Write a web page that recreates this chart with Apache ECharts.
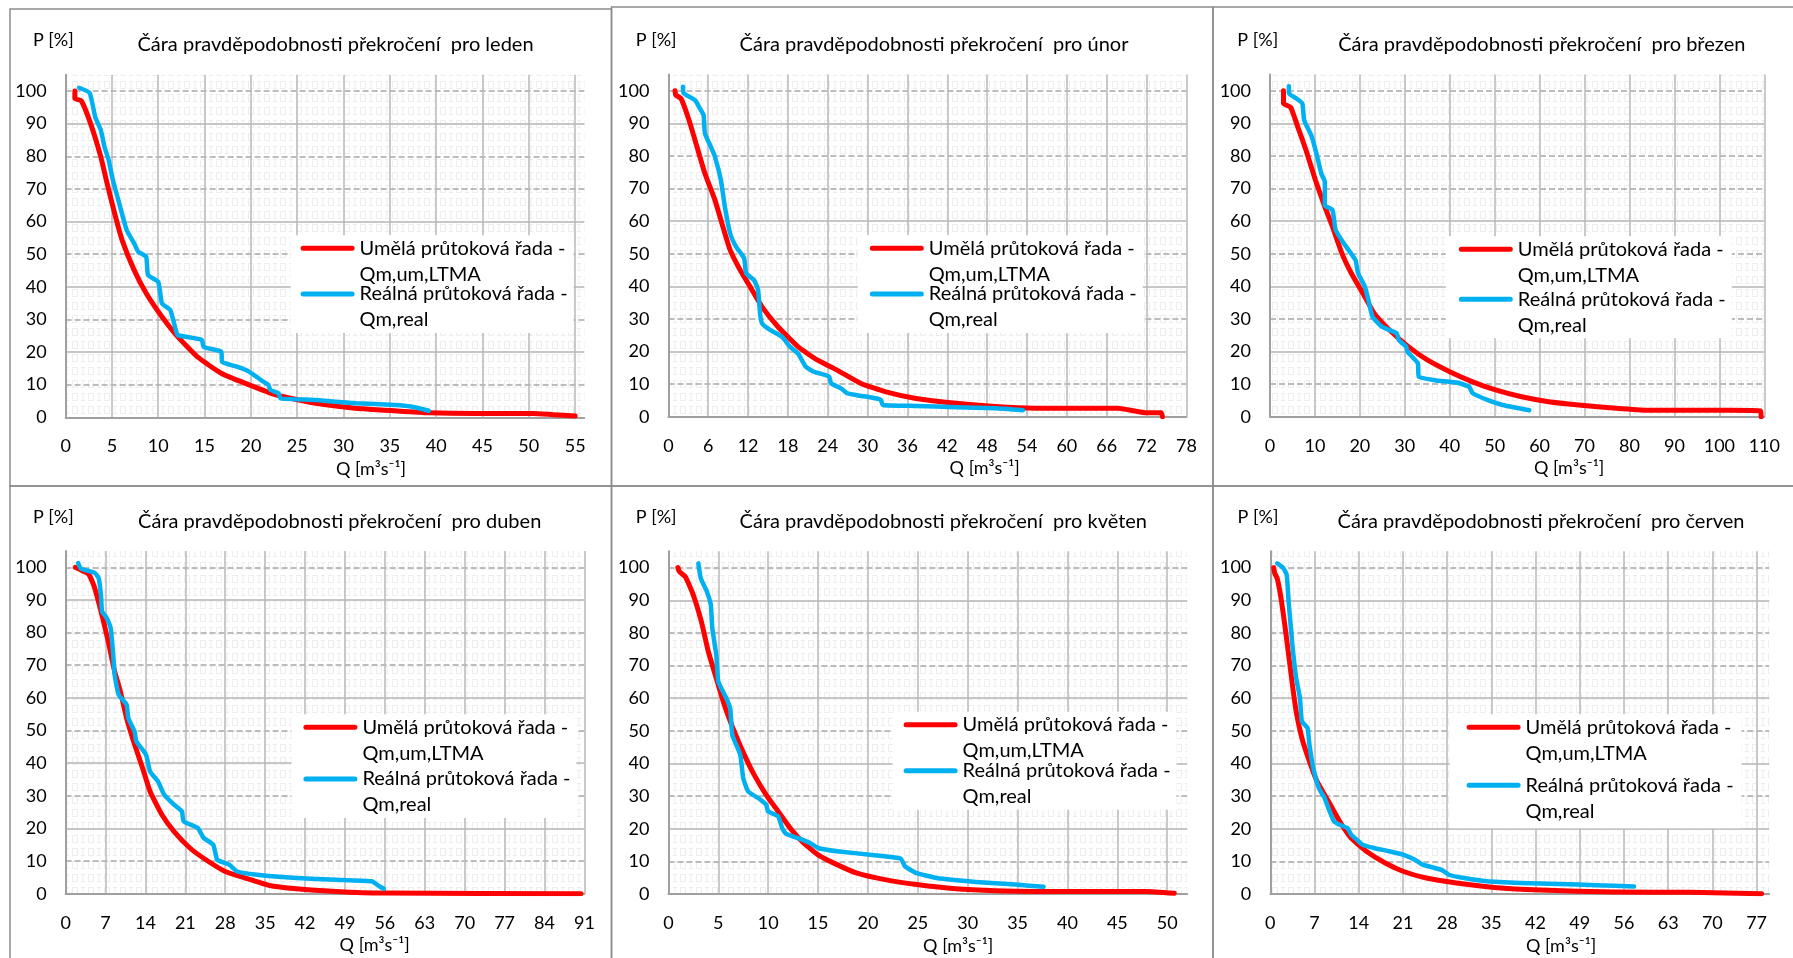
<!DOCTYPE html>
<html>
<head>
<meta charset="utf-8">
<script src="https://cdn.jsdelivr.net/npm/echarts@6/dist/echarts.min.js"></script>
<style>
html,body{margin:0;padding:0;background:#fff;}
#main{width:1793px;height:958px;}
</style>
</head>
<body>
<div id="main"></div>
<script>
// ---------------- DATA ----------------
const months = ['leden', 'únor', 'březen', 'duben', 'květen', 'červen'];
const seriesNames = ['Umělá průtoková řada -\nQm,um,LTMA', 'Reálná průtoková řada -\nQm,real'];
const xMax = [56, 78, 110, 91, 52, 79];
const xInterval = [5, 6, 10, 7, 5, 7];
const yMin = 0, yMax = 105, yInterval = 10;

const umLeden = [[1.0,100],[1.0,97.7],[1.7,97],[2.7,90],[3.8,79.8],[4.4,72.6],[5.3,62.4],[6.1,54.3],[7.4,45.1],[8.7,38],[10.4,30.8],[12.1,24.7],[14.2,18.6],[16.8,13.5],[19.4,10.4],[22.8,6.8],[27,4.3],[31.3,2.8],[35.6,2],[39.2,1.4],[44.1,1.2],[50.5,1.2],[52.6,0.8],[55,0.4]];
const realLeden = [[1.45,101],[2.6,99.4],[3.2,92],[3.8,88],[4.2,82.9],[4.65,78.8],[5.1,72.7],[5.7,66.5],[6.6,57.3],[7.4,53.3],[7.85,50.7],[8.7,49.2],[8.9,43.6],[10,41.5],[10.4,34.9],[11.3,32.9],[11.9,26.7],[12.1,25.2],[14.7,23.7],[14.9,21.6],[16.8,20.1],[16.9,17],[18.5,15.5],[19.8,14],[21.1,11.4],[21.9,9.9],[22.1,8.4],[23,7.3],[23.2,5.8],[27,5.3],[31.3,4.3],[35.6,3.8],[37.3,3.3],[39.2,2]];

const umUnor = [[1.0,100],[1.1,98.7],[1.9,97.6],[3.1,91],[4.3,82.8],[5.5,74.6],[7.0,66.5],[8.2,58.3],[9.3,51.1],[10.8,45],[12.3,39.9],[14.1,33.7],[16.5,27.6],[19.5,21.5],[22.4,17.4],[25.4,14.3],[29,10.2],[32.6,7.7],[37.3,5.6],[43.3,4.1],[49.2,3.1],[55.2,2.6],[61.2,2.6],[67.7,2.6],[70.1,1.8],[71.9,1.2],[74.2,1.2],[74.4,0]];
const realUnor = [[2.2,101.2],[2.3,99.2],[4.0,97.1],[4.9,94],[5.3,92.5],[5.5,86.9],[6.4,82.8],[7,79.8],[7.9,72.6],[8.5,64.4],[9.3,56.2],[10.2,52.1],[11.4,48.6],[11.7,44],[12.9,41.9],[13.5,38.9],[13.8,31.7],[14.1,28.6],[15.3,26.6],[17.1,24.5],[18.3,21.5],[19.5,19.4],[20.7,15.3],[21.9,13.8],[24.2,12.3],[24.5,10.2],[26,8.7],[26.9,7.2],[28.4,6.6],[31.4,5.6],[32,5.1],[32.3,3.6],[37.3,3.3],[43.3,2.9],[49.2,2.6],[53.4,2.0]];

const umBrezen = [[3.0,100],[3.0,96.1],[4.6,94.9],[5.9,90],[8.0,81.8],[10.1,72.6],[12.2,64.4],[13.9,58.3],[16,50.1],[18.1,44],[20.7,37.8],[23.2,31.7],[26.6,26.6],[30.8,21.5],[35,17.4],[40,13.8],[45.1,10.7],[50.2,8.2],[56,6.1],[62,4.6],[68.7,3.6],[77.1,2.6],[83.9,2.0],[94,2.0],[102.4,2.0],[109.2,1.8],[109.3,0]];
const realBrezen = [[4.2,101.4],[4.2,99.2],[5.9,97.6],[7.2,96.1],[7.6,91],[9.3,85.9],[10.5,79.8],[11.4,74.6],[12.2,72.1],[12.2,64.9],[13.9,63.4],[14.6,57.3],[16.4,53.2],[19.0,48.1],[19.6,44],[21.1,39.9],[21.9,35.8],[22.8,30.7],[24.9,27.6],[28.2,25.6],[28.7,23.5],[30.3,21.5],[30.6,19.9],[32.9,16.4],[33.1,12.3],[36.7,11.2],[41.7,10.4],[44.3,9.2],[45.1,7.2],[48.5,5.1],[51.8,3.6],[57.7,2.0]];

const umDuben = [[1.7,100],[3.1,98.8],[4.1,97.8],[5.1,93.7],[6.5,84.5],[7.6,76.3],[8.6,68.1],[9.6,62],[10.7,53.8],[12.1,45.7],[13.5,38.5],[14.8,31.4],[16.9,24.2],[19,19.1],[21.8,14],[24.6,10.4],[28,6.8],[31.5,4.8],[35.6,2.6],[40.5,1.5],[47.4,0.7],[55.8,0.2],[90.4,0]];
const realDuben = [[2.2,101.3],[2.7,99.6],[5.1,98.3],[5.8,96.7],[6.2,91.6],[6.4,86.5],[7.2,84.5],[7.9,81.4],[8.3,74.3],[8.6,67.1],[9.3,61],[10.7,57.9],[11,53.8],[12.1,49.7],[12.4,46.7],[14.1,42.6],[14.8,37.5],[16.2,34.4],[17.3,30.3],[19,27.3],[20.4,25.2],[20.7,22.2],[23.2,20.1],[24.2,17.1],[25.9,15],[26.6,10.4],[28.7,8.9],[30.1,6.8],[33.6,5.8],[40.5,4.8],[47.4,4.3],[53.7,3.8],[55.1,2.2],[55.8,1.5]];

const umKveten = [[0.95,100],[1.1,98.8],[1.7,97.2],[2.5,91.6],[3.3,83.5],[4.0,74.3],[4.8,66.1],[5.6,58],[6.6,49.8],[7.6,42.7],[8.6,36.5],[9.8,30.4],[11,25.3],[12.2,20.2],[13.4,16.1],[15,12],[16.9,9],[18.9,6.4],[21.7,4.4],[24.9,2.9],[28.8,1.6],[32.8,1.0],[36.8,0.8],[47.9,0.8],[50.7,0.2]];
const realKveten = [[3.0,101.3],[3.25,96.7],[3.85,92.7],[4.25,88.6],[4.4,81.4],[4.8,73.3],[5.0,65.1],[5.8,60],[6.2,56.9],[6.4,48.8],[7.2,42.7],[7.5,35.5],[8,31.4],[9,29.4],[9.8,27.3],[10,25.3],[11,23.8],[11.4,20.2],[11.8,18.4],[13,17.1],[14.2,15.6],[15,14.1],[16.9,13.1],[20.9,11.8],[23.3,10.8],[23.7,8.5],[24.9,6.4],[26.9,4.9],[30.8,3.7],[34.8,2.9],[37.6,2.2]];

const umCerven = [[0.54,100],[0.7,98.3],[1.1,96.7],[1.7,90.6],[2.3,82.4],[2.9,73.3],[3.5,64.1],[4.1,55.9],[5.0,47.8],[6.2,40.6],[7.4,34.5],[9.2,28.4],[11,22.2],[12.8,17.1],[15.2,13.1],[18.2,9.5],[21.1,6.9],[24.7,4.9],[29.5,3.4],[35.5,2.0],[42.7,1.2],[54.6,0.6],[66.5,0.5],[77.8,0.1]];
const realCerven = [[1.1,101.3],[2.0,100],[2.6,97.8],[2.9,89.6],[3.5,76.3],[4.1,66.1],[4.7,60],[5.0,52.9],[5.9,50.8],[6.2,45.7],[6.8,38.6],[7.7,32.4],[8.6,29.4],[9.2,26.3],[10.1,22.2],[11,21.2],[12.2,20.2],[12.8,18.2],[14,16.1],[14.6,15.1],[16.4,14.1],[18.8,13.1],[21.1,12],[22.9,10.5],[24.1,9],[27.1,7.4],[28.3,5.9],[30.7,4.9],[34.3,3.9],[39.7,3.4],[45.6,3.1],[51.6,2.7],[57.6,2.3]];

const umSeries = [umLeden, umUnor, umBrezen, umDuben, umKveten, umCerven];
const realSeries = [realLeden, realUnor, realBrezen, realDuben, realKveten, realCerven];

// ---------------- LAYOUT / STYLE ----------------
const gridBoxes = [
  {left: 65.6, top: 74.7, width: 518.8, height: 342.6},
  {left: 668.4, top: 74.4, width: 518.0, height: 342.3},
  {left: 1270.0, top: 74.4, width: 494.3, height: 342.3},
  {left: 65.6, top: 551.0, width: 518.8, height: 342.7},
  {left: 668.4, top: 551.3, width: 518.8, height: 342.7},
  {left: 1270.3, top: 551.3, width: 498.9, height: 342.7}
];
const titleCenters = [[335.5, 33], [934, 33], [1541.8, 33], [339.7, 509.3], [943.3, 509.3], [1541, 509.3]];
const qNamePad = [92, 114.6, 104, 99.4, 60.8, 82.8];
const pNameGap = [23.7, 23.7, 23.7, 22.7, 22.7, 22.7];
const legendBoxes = [
  {left: 290.6, top: 235.3, gap: -6.3, pl: 10, pb: 0, pr: 6},
  {left: 857.8, top: 235.3, gap: -6.3, pl: 12, pb: 0, pr: 6},
  {left: 1445.8, top: 236.3, gap: -2, pl: 13, pb: 0, pr: 6},
  {left: 291.4, top: 714.3, gap: -0.3, pl: 12, pb: 0, pr: 6},
  {left: 892.6, top: 711.7, gap: -6, pl: 11, pb: 0, pr: 6},
  {left: 1449.6, top: 714.3, gap: 6, pl: 17, pb: 4, pr: 8}
];
const RED = '#ff0000', BLUE = '#00b0f0';
const FONT = 'Lato';
const TXT = '#000000';

function makePattern() {
  const c = document.createElement('canvas');
  c.width = 16; c.height = 13;
  const g = c.getContext('2d');
  g.fillStyle = '#ffffff';
  g.fillRect(0, 0, 16, 13);
  g.strokeStyle = '#ededed';
  g.lineWidth = 1;
  g.beginPath();
  g.moveTo(1, 3.5); g.lineTo(5, 3.5);
  g.moveTo(3, 3.5); g.lineTo(3, 10.5);
  g.moveTo(1, 10.5); g.lineTo(5, 10.5);
  g.rect(8.5, 3.5, 5, 7);
  g.stroke();
  return c;
}
const pattern = {image: makePattern(), repeat: 'repeat'};

const T = 'transparent', D = '#a8a8a8', S = '#b5b5b5';
const dashedColors = [T, D, T, D, T, D, T, D, D, T, D, T];
const solidColors  = [T, T, S, T, S, T, S, T, T, S, T, T];

const legendIcon = 'path://M0,0 L0.01,0 L0,0.01 Z M2.5,10.5 L51.5,10.5 A2.5,2.5,0,0,1,51.5,15.5 L2.5,15.5 A2.5,2.5,0,0,1,2.5,10.5 Z M54,52 L53.99,52 L54,51.99 Z';

const grid = [], xAxis = [], yAxis = [], series = [], title = [], legend = [];
for (let i = 0; i < 6; i++) {
  const gb = gridBoxes[i];
  grid.push({left: gb.left, top: gb.top, width: gb.width, height: gb.height, show: true,
    backgroundColor: pattern, borderWidth: 0, containLabel: false});
  const maxIsTick = xMax[i] % xInterval[i] === 0;
  xAxis.push({
    type: 'value', gridIndex: i, min: 0, max: xMax[i], interval: xInterval[i],
    name: 'Q [m³s⁻¹]', nameLocation: 'middle', nameGap: 39.7,
    nameTextStyle: {fontFamily: FONT, fontSize: 18, color: TXT, lineHeight: 22, padding: [0, 0, 0, qNamePad[i]]},
    axisLine: {show: true, onZero: false, lineStyle: {color: '#a0a0a0', width: 2}},
    axisTick: {show: false},
    axisLabel: {fontFamily: FONT, fontSize: 18, color: TXT, margin: 18, lineHeight: 22, showMaxLabel: maxIsTick},
    splitLine: {show: true, showMinLine: false, showMaxLine: maxIsTick, lineStyle: {color: '#b8b8b8', width: 1.5}}
  });
  yAxis.push({
    type: 'value', gridIndex: i, min: yMin, max: yMax, interval: yInterval, position: 'left',
    name: 'P [%]', nameLocation: 'end', nameGap: pNameGap[i],
    nameTextStyle: {fontFamily: FONT, fontSize: 18, color: TXT, lineHeight: 22, padding: [0, 24.5, 0, 0]},
    axisLine: {show: true, onZero: false, lineStyle: {color: '#a0a0a0', width: 2}},
    axisTick: {show: false},
    axisLabel: {fontFamily: FONT, fontSize: 18, color: TXT, margin: 19, showMaxLabel: false},
    splitLine: {show: true, showMaxLine: false, lineStyle: {color: dashedColors, width: 1.5, type: [6, 3]}}
  });
  yAxis.push({
    type: 'value', gridIndex: i, min: yMin, max: yMax, interval: yInterval, position: 'left',
    axisLine: {show: false}, axisTick: {show: false}, axisLabel: {show: false},
    splitLine: {show: true, showMaxLine: false, lineStyle: {color: solidColors, width: 1.5, type: 'solid'}}
  });
  series.push({
    name: seriesNames[0], type: 'line', xAxisIndex: i, yAxisIndex: 2 * i,
    data: umSeries[i], showSymbol: false, symbol: 'none', smooth: 0.15,
    color: RED, lineStyle: {color: RED, width: 5, cap: 'round', join: 'round'}, z: 3
  });
  series.push({
    name: seriesNames[1], type: 'line', xAxisIndex: i, yAxisIndex: 2 * i,
    data: realSeries[i], showSymbol: false, symbol: 'none', smooth: 0.15,
    color: BLUE, lineStyle: {color: BLUE, width: 4.5, cap: 'round', join: 'round'}, z: 4
  });
  title.push({
    text: 'Čára pravděpodobnosti překročení  pro ' + months[i],
    left: titleCenters[i][0], top: titleCenters[i][1], textAlign: 'center', padding: 0,
    textStyle: {fontFamily: FONT, fontSize: 20, fontWeight: 'normal', color: TXT, lineHeight: 24}
  });
  const lb = legendBoxes[i];
  legend.push({
    left: lb.left, top: lb.top, orient: 'vertical', itemWidth: 54, itemHeight: 52, itemGap: lb.gap,
    padding: [0, lb.pr, lb.pb, lb.pl], backgroundColor: '#ffffff', icon: legendIcon,
    selectedMode: false, itemStyle: {borderWidth: 0},
    textStyle: {fontFamily: FONT, fontSize: 20, lineHeight: 26, color: TXT},
    data: seriesNames
  });
}

const frameStyle = {fill: 'none', stroke: '#8c8c8c', lineWidth: 1.5};
const graphic = [
  {type: 'rect', shape: {x: 10, y: 9, width: 601.5, height: 477}, style: frameStyle, silent: true},
  {type: 'rect', shape: {x: 611.5, y: 7, width: 601.5, height: 479}, style: frameStyle, silent: true},
  {type: 'rect', shape: {x: 1213, y: 7, width: 600, height: 479}, style: frameStyle, silent: true},
  {type: 'rect', shape: {x: 10, y: 486, width: 601.5, height: 500}, style: frameStyle, silent: true},
  {type: 'rect', shape: {x: 611.5, y: 486, width: 601.5, height: 500}, style: frameStyle, silent: true},
  {type: 'rect', shape: {x: 1213, y: 486, width: 600, height: 500}, style: frameStyle, silent: true}
];

const chart = echarts.init(document.getElementById('main'), null, {renderer: 'canvas'});
chart.setOption({
  animation: false,
  backgroundColor: '#ffffff',
  title, legend, grid, xAxis, yAxis, series, graphic
});
</script>
</body>
</html>
